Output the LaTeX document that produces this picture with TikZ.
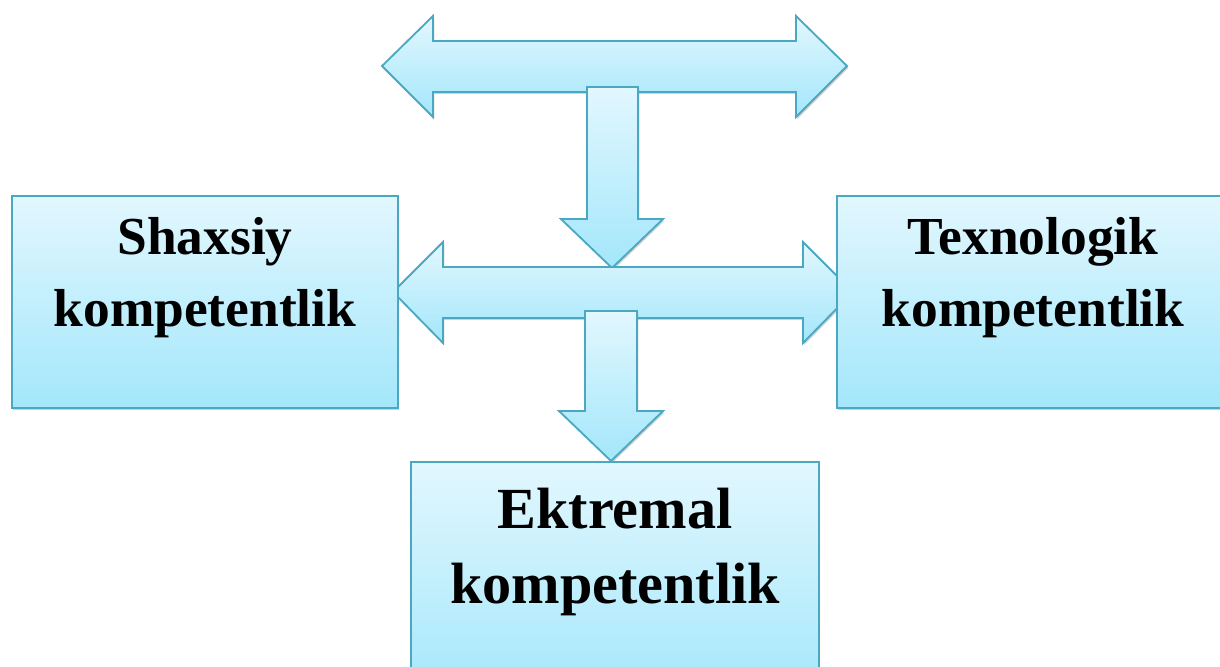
\documentclass[tikz,border=0pt]{standalone}
\usepackage{fontspec}
\setmainfont{Liberation Serif}
\usetikzlibrary{shadows}
\definecolor{aqualine}{HTML}{4AA8C2}
\definecolor{aquatop}{HTML}{E2F7FE}
\definecolor{aquabot}{HTML}{A3E7FB}
\tikzset{
  blockfill/.style={draw=aqualine,line width=1.3pt,line join=miter,top color=aquatop,bottom color=aquabot,
    drop shadow={shadow xshift=1pt,shadow yshift=-1.3pt,opacity=0.35}},
  kbox/.style={blockfill,minimum width=9.65cm,minimum height=5.3cm,inner sep=0pt},
  ktext/.style={align=center,inner sep=0pt,font=\fontsize{38}{51.2}\selectfont\bfseries},
  kbigtext/.style={align=center,inner sep=0pt,font=\fontsize{41.4}{53.3}\selectfont\bfseries}
}
\begin{document}
\begin{tikzpicture}[x=0.025cm,y=-0.025cm]
\useasboundingbox(0,0)rectangle(1220,666);
\clip(0,0)rectangle(1220,666);
\fill[white](0,0)rectangle(1220,666);
\draw[blockfill](382,66)--(433,16)--(433,41)--(796,41)--(796,16)--(847,66)--(796,117)--(796,92)--(433,92)--(433,117)--cycle;
\draw[blockfill](587,87)--(638,87)--(638,219)--(663,219)--(612,268)--(561,219)--(587,219)--cycle;
\draw[blockfill](393,292)--(443,242)--(443,267)--(803,267)--(803,242)--(853,292)--(803,343)--(803,318)--(443,318)--(443,343)--cycle;
\draw[blockfill](585,311)--(637,311)--(637,411)--(663,411)--(611,461)--(559,411)--(585,411)--cycle;
\node[kbox](shaxsiy)at(205,302){};
\node[kbox](texnologik)at(1030,302){};
\node[kbox,minimum width=10.2cm,minimum height=6cm](ektremal)at(615,582){};
\node[ktext](shaxsiyT)at(205,278){Shaxsiy\\kompetentlik};
\node[ktext](texnologikT)at(1033,278){Texnologik\\kompetentlik};
\node[kbigtext](ektremalT)at(615,552){Ektremal\\kompetentlik};
\end{tikzpicture}
\end{document}
